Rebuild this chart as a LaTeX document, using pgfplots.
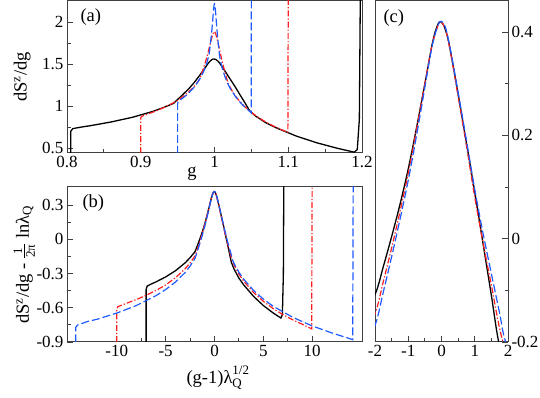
\documentclass[border=0pt]{standalone}
\usepackage{amsmath}
\usepackage{fontspec}
\setmainfont{Liberation Serif}
\usepackage{pgfplots}
\usepackage{pgfplotstable}
\pgfplotsset{compat=1.18}
\definecolor{grblue}{RGB}{30,90,255}
\definecolor{grred}{RGB}{255,30,30}

% panel (a): dS^z/dg against g
\pgfplotstableread{
g y
0.8050 0.30
0.8052 0.70
0.8078 0.73
0.8189 0.748
0.8329 0.767
0.8607 0.811
0.8886 0.865
0.9164 0.935
0.9304 0.980
0.9443 1.030
0.9513 1.088
0.9582 1.146
0.9652 1.206
0.9721 1.275
0.9791 1.355
0.9861 1.440
0.9916 1.510
0.9944 1.538
0.9972 1.556
0.9986 1.560
1.0014 1.555
1.0042 1.538
1.0070 1.510
1.0139 1.420
1.0209 1.325
1.0279 1.230
1.0348 1.130
1.0418 1.030
1.0479 0.940
1.0557 0.880
1.0696 0.800
1.0836 0.740
1.0975 0.690
1.1114 0.640
1.1393 0.560
1.1671 0.495
1.1894 0.450
1.1936 0.480
1.1964 0.840
1.1978 2.400
}\aBlack
\pgfplotstableread{
g y
0.9000 0.30
0.9000 0.856
0.9010 0.876
0.9100 0.906
0.9200 0.938
0.9300 0.976
0.9400 1.018
0.9500 1.066
0.9600 1.130
0.9700 1.209
0.9750 1.259
0.9800 1.321
0.9825 1.383
0.9850 1.448
0.9875 1.518
0.9900 1.593
0.9925 1.678
0.9950 1.766
0.9970 1.836
0.9985 1.870
0.9995 1.886
1.0005 1.881
1.0015 1.864
1.0030 1.816
1.0050 1.741
1.0075 1.646
1.0100 1.546
1.0125 1.458
1.0150 1.376
1.0185 1.266
1.0250 1.162
1.0300 1.099
1.0400 1.000
1.0500 0.923
1.0600 0.860
1.0700 0.806
1.0800 0.761
1.0900 0.721
1.0995 0.686
1.1000 2.400
}\aRed
\pgfplotstableread{
g y
0.9500 0.30
0.9500 1.028
0.9507 1.048
0.9542 1.078
0.9577 1.098
0.9648 1.152
0.9718 1.218
0.9789 1.304
0.9824 1.358
0.9859 1.424
0.9894 1.508
0.9912 1.564
0.9930 1.630
0.9938 1.693
0.9947 1.760
0.9956 1.832
0.9965 1.910
0.9974 2.000
0.9982 2.093
0.9989 2.165
0.9995 2.203
0.9998 2.218
1.0002 2.216
1.0005 2.200
1.0011 2.153
1.0018 2.081
1.0026 1.988
1.0035 1.893
1.0044 1.808
1.0053 1.730
1.0062 1.653
1.0068 1.598
1.0088 1.510
1.0106 1.448
1.0141 1.350
1.0176 1.274
1.0211 1.212
1.0282 1.115
1.0352 1.039
1.0423 0.978
1.0493 0.923
1.0498 0.918
1.0500 2.400
}\aBlue

% panels (b) and (c): scaled variable
\pgfplotstableread{
u y
-7.00 -1.00
-7.00 -0.44
-6.90 -0.41
-6.50 -0.392
-6.00 -0.373
-5.00 -0.329
-4.00 -0.275
-3.00 -0.205
-2.50 -0.160
-2.00 -0.108
-1.75 -0.054
-1.50 0.004
-1.25 0.066
-1.00 0.135
-0.75 0.215
-0.50 0.300
-0.30 0.370
-0.20 0.398
-0.10 0.416
-0.04 0.420
0.05 0.415
0.15 0.398
0.25 0.370
0.50 0.280
0.75 0.185
1.00 0.090
1.25 -0.010
1.50 -0.110
1.72 -0.200
2.00 -0.260
2.50 -0.340
3.00 -0.400
3.50 -0.450
4.00 -0.500
5.00 -0.580
6.00 -0.645
6.80 -0.690
6.95 -0.660
7.05 -0.300
7.10 0.600
}\bBlack
\pgfplotstableread{
u y
-10.00 -1.00
-10.00 -0.61
-9.90 -0.590
-9.00 -0.560
-8.00 -0.528
-7.00 -0.490
-6.00 -0.448
-5.00 -0.400
-4.00 -0.336
-3.00 -0.257
-2.50 -0.207
-2.00 -0.145
-1.75 -0.083
-1.50 -0.018
-1.25 0.052
-1.00 0.127
-0.75 0.212
-0.50 0.300
-0.30 0.370
-0.15 0.404
-0.05 0.420
0.05 0.415
0.15 0.398
0.30 0.350
0.50 0.275
0.75 0.180
1.00 0.080
1.25 -0.008
1.50 -0.090
1.85 -0.200
2.50 -0.304
3.00 -0.367
4.00 -0.466
5.00 -0.543
6.00 -0.606
7.00 -0.660
8.00 -0.705
9.00 -0.745
9.95 -0.785
10.00 0.600
}\bRed
\pgfplotstableread{
u y
-14.20 -1.00
-14.20 -0.77
-14.00 -0.750
-13.00 -0.720
-12.00 -0.700
-10.00 -0.646
-8.00 -0.580
-6.00 -0.494
-5.00 -0.440
-4.00 -0.374
-3.00 -0.290
-2.50 -0.234
-2.00 -0.168
-1.75 -0.103
-1.50 -0.035
-1.25 0.037
-1.00 0.113
-0.75 0.200
-0.50 0.293
-0.30 0.367
-0.15 0.405
-0.05 0.420
0.05 0.418
0.15 0.402
0.30 0.355
0.50 0.283
0.75 0.190
1.00 0.095
1.25 0.010
1.50 -0.068
1.75 -0.145
1.93 -0.200
2.50 -0.288
3.00 -0.350
4.00 -0.448
5.00 -0.524
6.00 -0.586
8.00 -0.683
10.00 -0.759
12.00 -0.820
14.00 -0.875
14.15 -0.880
14.20 0.600
}\bBlue

\pgfplotsset{
  panel/.style={
    scale only axis, anchor=south west,
    axis line style={black!75, line width=1pt},
    every tick/.style={black!75, line width=0.9pt},
    major tick length=6pt, minor tick length=3.5pt,
    tick label style={font=\fontsize{17}{19}\selectfont},
    label style={font=\fontsize{18.5}{21}\selectfont},
    /pgf/number format/assume math mode=true,
  },
  blk/.style={black, line width=1.3pt},
  rdd/.style={grred, line width=1.2pt, dash pattern=on 6pt off 2pt on 1.3pt off 2pt},
  blu/.style={grblue, line width=1.2pt, dash pattern=on 8pt off 3pt},
}

\begin{document}
\begin{tikzpicture}
\path[use as bounding box] (0pt,0pt) rectangle (540pt,398pt);

% (a)
\begin{axis}[panel, at={(67pt,245pt)}, width=295pt, height=152pt,
  xmin=0.8, xmax=1.2, ymin=0.44, ymax=2.25,
  xtick={0.8,0.9,1,1.1,1.2}, minor x tick num=1,
  ytick={0.5,1,1.5,2}, minor y tick num=1,
  tick pos=left,
  xlabel={g},
  xlabel style={at={(axis description cs:0.424,0)}, anchor=center, yshift=-21pt},
  ylabel={dS\textsuperscript{z}/dg},
  ylabel style={at={(axis description cs:-0.152,0.5)}, anchor=center},
]
\addplot[blk] table {\aBlack};
\addplot[rdd] table {\aRed};
\addplot[blu] table {\aBlue};
\node[anchor=north west, font=\fontsize{18.5}{21}\selectfont] at (rel axis cs:0,1) [xshift=10pt, yshift=-4pt] {(a)};
\end{axis}

% (b)
\begin{axis}[panel, at={(67pt,56pt)}, width=295pt, height=155pt,
  xmin=-15.1, xmax=15.1, ymin=-0.9, ymax=0.46,
  xtick={-10,-5,0,5,10}, minor x tick num=1,
  ytick={-0.9,-0.6,-0.3,0,0.3}, minor y tick num=1,
  tick pos=left,
  xlabel={$\text{(g-1)λ}_{\text{Q}}^{\text{1/2}}$},
  xlabel style={at={(axis description cs:0.512,0)}, anchor=center, yshift=-36pt},
  ylabel={dS\textsuperscript{z}/dg - $\frac{\text{1}}{\text{2π}}$ lnλ$_{\text{Q}}$},
  ylabel style={at={(axis description cs:-0.145,0.5)}, anchor=center},
]
\addplot[blk] table {\bBlack};
\addplot[rdd] table {\bRed};
\addplot[blu] table {\bBlue};
\node[anchor=north west, font=\fontsize{18.5}{21}\selectfont] at (rel axis cs:0,1) [xshift=12pt, yshift=-4pt] {(b)};
\end{axis}

% (c)
\begin{axis}[panel, at={(375pt,56pt)}, width=133pt, height=341pt,
  xmin=-2, xmax=2, ymin=-0.2, ymax=0.46,
  xtick={-2,-1,0,1,2}, minor x tick num=1,
  ytick={-0.2,0,0.2,0.4}, minor y tick num=1,
  xtick pos=left, ytick pos=right, yticklabel pos=right,
]
\addplot[blk, smooth] table {\bBlack};
\addplot[rdd, smooth] table {\bRed};
\addplot[blu, smooth] table {\bBlue};
\node[anchor=north west, font=\fontsize{18.5}{21}\selectfont] at (rel axis cs:0,1) [xshift=5pt, yshift=-5pt] {(c)};
\end{axis}
\end{tikzpicture}
\end{document}
